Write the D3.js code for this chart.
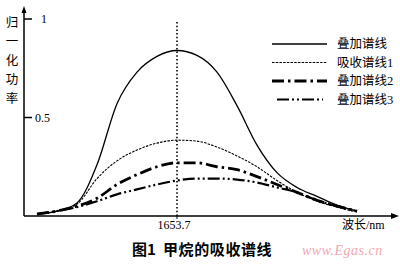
<!DOCTYPE html>
<html>
<head>
<meta charset="utf-8">
<script src="https://cdn.jsdelivr.net/npm/d3@7"></script>
<style>
  body { margin: 0; background: #fff; }
  svg { display: block; }
</style>
</head>
<body>
<div id="svg_container"></div>
<script>
// wavelength samples (nm)
const wavelengths = [1652.3, 1652.5, 1652.7, 1652.9, 1653.1, 1653.3, 1653.5, 1653.7, 1653.9,
    1654.1, 1654.3, 1654.5, 1654.7, 1654.9, 1655.1, 1655.3, 1655.5];

// normalised power
const sumLine = [0.01, 0.025, 0.066, 0.26, 0.57, 0.73, 0.81, 0.84, 0.815,
    0.73, 0.56, 0.36, 0.22, 0.145, 0.10, 0.055, 0.025];
const absLine1 = [0.01, 0.025, 0.06, 0.19, 0.28, 0.335, 0.37, 0.385, 0.38,
    0.35, 0.305, 0.25, 0.18, 0.12, 0.075, 0.045, 0.02];
const sumLine2 = [0.01, 0.025, 0.05, 0.09, 0.16, 0.21, 0.25, 0.27, 0.27,
    0.25, 0.235, 0.20, 0.16, 0.12, 0.08, 0.05, 0.025];
const sumLine3 = [0.01, 0.025, 0.045, 0.075, 0.11, 0.135, 0.16, 0.18, 0.19,
    0.19, 0.185, 0.17, 0.145, 0.12, 0.08, 0.05, 0.025];

const seriesNames = ["叠加谱线", "吸收谱线1", "叠加谱线2", "叠加谱线3"];
const yTicks = [0.5, 1];
const peakWavelength = 1653.7;

function createChart() {
    let width = 400;
    let height = 264;
    const svg = d3.select('#svg_container').append("svg")
        .attr("width", width)
        .attr("height", height);

    const x = d3.scaleLinear().domain([1652.17, 1655.93]).range([24, 400]);
    const y = d3.scaleLinear().domain([0, 1]).range([216, 19]);

    const serif = "'Liberation Serif', 'DejaVu Serif', serif";
    const cjk = "'Noto Sans CJK SC', sans-serif";

    // axes
    svg.append("line")
        .attr("x1", x.range()[0]).attr("x2", 396)
        .attr("y1", 216).attr("y2", 216)
        .attr("stroke", "#000").attr("stroke-width", 1.5);
    svg.append("path")
        .attr("d", "M399,216 L391,213 L391,219 Z")
        .attr("fill", "#000");
    svg.append("line")
        .attr("x1", 24).attr("x2", 24)
        .attr("y1", 216).attr("y2", 10)
        .attr("stroke", "#000").attr("stroke-width", 1.5);
    svg.append("path")
        .attr("d", "M24,6 L21.5,13 L26.5,13 Z")
        .attr("fill", "#000");

    // y ticks
    const yt = svg.append("g");
    yt.selectAll("line").data(yTicks).join("line")
        .attr("x1", 24).attr("x2", 32)
        .attr("y1", d => y(d)).attr("y2", d => y(d))
        .attr("stroke", "#000").attr("stroke-width", 1.5);
    yt.selectAll("text").data(yTicks).join("text")
        .attr("x", d => d === 1 ? 41 : 35)
        .attr("y", d => y(d))
        .attr("dy", "0.35em")
        .attr("font-family", serif)
        .attr("font-size", 12)
        .text(d => d);

    // x tick
    svg.append("line")
        .attr("x1", x(peakWavelength)).attr("x2", x(peakWavelength))
        .attr("y1", 216).attr("y2", 219)
        .attr("stroke", "#000");
    svg.append("text")
        .attr("x", x(peakWavelength) - 3).attr("y", 229)
        .attr("text-anchor", "middle")
        .attr("font-family", serif).attr("font-size", 12)
        .text(peakWavelength.toFixed(1));

    // dotted line at the peak
    svg.append("line")
        .attr("x1", x(peakWavelength)).attr("x2", x(peakWavelength))
        .attr("y1", 22).attr("y2", 216)
        .attr("stroke", "#000").attr("stroke-width", 1.6)
        .attr("stroke-dasharray", "1.5,2.2");

    // axis titles
    svg.append("text")
        .attr("x", 342).attr("y", 229)
        .attr("font-family", cjk).attr("font-size", 12)
        .text("波长")
        .append("tspan").attr("font-family", serif).text("/nm");

    svg.append("g").selectAll("text")
        .data("归一化功率".split(""))
        .join("text")
        .attr("x", 12).attr("y", (d, i) => 23 + i * 19)
        .attr("dy", "0.35em")
        .attr("text-anchor", "middle")
        .attr("font-family", cjk).attr("font-size", 12.5)
        .text(d => d);

    // curves
    const styles = [
        { w: 1.3, dash: null },
        { w: 1.1, dash: "2.5,1.2" },
        { w: 2.8, dash: "12,4,2.5,4" },
        { w: 2.2, dash: "12,3,2,3,2,3" }
    ];
    const allSeries = [sumLine, absLine1, sumLine2, sumLine3];
    const line = d3.line()
        .x((d, i) => x(wavelengths[i]))
        .y(d => y(d))
        .curve(d3.curveMonotoneX);

    svg.append("g")
        .selectAll("path")
        .data(allSeries)
        .join("path")
        .attr("fill", "none")
        .attr("stroke", "#000")
        .attr("stroke-width", (d, i) => styles[i].w)
        .attr("stroke-dasharray", (d, i) => styles[i].dash)
        .attr("d", line);

    // legend
    const legend = svg.append("g");
    const rows = legend.selectAll("g").data(seriesNames).join("g")
        .attr("transform", (d, i) => `translate(0,${44 + i * 18.5})`);
    rows.append("line")
        .attr("x1", (d, i) => i === 3 ? 277 : 272).attr("x2", (d, i) => i === 3 ? 323 : 327)
        .attr("y1", 0).attr("y2", 0)
        .attr("stroke", "#000")
        .attr("stroke-width", (d, i) => styles[i].w)
        .attr("stroke-dasharray", (d, i) => styles[i].dash);
    rows.append("text")
        .attr("x", 337).attr("y", 0).attr("dy", "0.35em")
        .attr("font-family", cjk).attr("font-size", 12.5)
        .text(d => d.replace(/\d$/, ""))
        .append("tspan").attr("font-family", serif)
        .text(d => (d.match(/\d$/) || [""])[0]);

    // caption
    const cap = svg.append("g")
        .attr("font-family", cjk).attr("font-size", 15).attr("font-weight", "bold");
    cap.append("text")
        .attr("x", 132).attr("y", 250).attr("dy", "0.35em")
        .text("图1");
    cap.append("text")
        .attr("x", 163).attr("y", 250).attr("dy", "0.35em")
        .attr("letter-spacing", 0.6)
        .text("甲烷的吸收谱线");

    // watermark
    svg.append("text")
        .attr("x", 302).attr("y", 250).attr("dy", "0.35em")
        .attr("font-family", serif).attr("font-size", 14)
        .attr("font-style", "italic").attr("fill", "#f2a7b3")
        .attr("letter-spacing", 0.5)
        .text("www.Egas.cn");
}

document.addEventListener('DOMContentLoaded', function () {
    createChart();
});
</script>
</body>
</html>
